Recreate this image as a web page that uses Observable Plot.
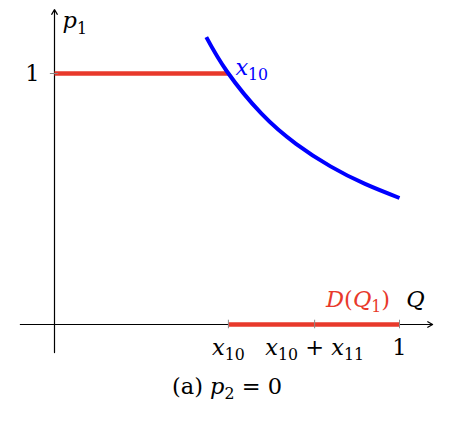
<!DOCTYPE html>
<html>
<head>
<meta charset="utf-8">
<script src="https://cdn.jsdelivr.net/npm/d3@7"></script>
<script src="https://cdn.jsdelivr.net/npm/@observablehq/plot@0.6"></script>
<style>
  html, body { margin: 0; padding: 0; background: #fff; }
  svg text, svg tspan { white-space: pre; }
</style>
</head>
<body>
<div id="chart"></div>
<script>
// Blue curve
const curveQ = [0.44, 0.5, 0.6, 0.7, 0.8, 0.9, 1.0];
const curveP = [1.145, 1.008, 0.84, 0.72, 0.63, 0.56, 0.504];
// Red segments
const upperRedQ = [0, 0.504];
const upperRedP = [1, 1];
const lowerRedQ = [0.504, 1];
const lowerRedP = [0, 0];
// Ticks and tick labels
const xTickValues = [0.504, 0.754, 1];
const xTickLabels = ["*x*_{10}", "*x*_{10} + *x*_{11}", "1"];
const yTickValues = [1];
const yTickLabels = ["1"];
// Axis extents
const xAxisRange = [-0.099, 1.096];
const yAxisRange = [-0.112, 1.255];

const RED = "#e8392b";
const BLUE = "#0000ff";
const FONT = "DejaVu Serif";
const FS = 22.5;

const plot = Plot.plot({
  width: 472,
  height: 434,
  marginLeft: 54,
  marginRight: 73,
  marginTop: 73,
  marginBottom: 110,
  x: {domain: [0, 1], axis: null},
  y: {domain: [0, 1], axis: null},
  style: {fontFamily: FONT, background: "#fff", overflow: "visible"},
  marks: [
    // axes with arrows
    Plot.arrow([0], {x1: xAxisRange[0], x2: xAxisRange[1], y1: 0, y2: 0, stroke: "#000", strokeWidth: 1.2, headLength: 7}),
    Plot.arrow([0], {x1: 0, x2: 0, y1: yAxisRange[0], y2: yAxisRange[1], stroke: "#000", strokeWidth: 1.2, headLength: 7}),
    // red segments
    Plot.line(upperRedQ.map((q, i) => ({q, p: upperRedP[i]})), {x: "q", y: "p", stroke: RED, strokeWidth: 4.5, strokeLinecap: "butt"}),
    Plot.line(lowerRedQ.map((q, i) => ({q, p: lowerRedP[i]})), {x: "q", y: "p", stroke: RED, strokeWidth: 4.5, strokeLinecap: "butt"}),
    // small ticks
    Plot.ruleX(xTickValues, {x: d => d, y1: -0.017, y2: 0.017, stroke: "#888", strokeWidth: 1}),
    Plot.ruleY(yTickValues, {y: d => d, x1: -0.012, x2: 0.012, stroke: "#888", strokeWidth: 1}),
    // blue curve
    Plot.line(curveQ.map((q, i) => ({q, p: curveP[i]})), {x: "q", y: "p", stroke: BLUE, strokeWidth: 4, curve: "natural", strokeLinecap: "butt"}),
    // tick labels
    Plot.text(xTickLabels, {x: xTickValues, y: 0, text: d => d, dy: 23, fontSize: FS, fontFamily: FONT, fill: "#000"}),
    Plot.text(yTickLabels, {x: 0, y: yTickValues, text: d => d, dx: -15, textAnchor: "end", fontSize: FS, fontFamily: FONT, fill: "#000"}),
    // axis titles
    Plot.text(["*p*_1"], {x: 0, y: 1.21, text: d => d, dx: 8, textAnchor: "start", fontSize: FS, fontFamily: FONT, fill: "#000"}),
    Plot.text(["*Q*"], {x: 1.046, y: 0.10, text: d => d, fontSize: FS, fontFamily: FONT, fill: "#000"}),
    // annotations
    Plot.text(["*D*(*Q*_1)"], {x: 0.88, y: 0.10, text: d => d, fontSize: FS, fontFamily: FONT, fill: RED}),
    Plot.text(["*x*_{10}"], {x: 0.504, y: 1, text: d => d, dx: 7, dy: -6, textAnchor: "start", fontSize: FS, fontFamily: FONT, fill: BLUE}),
    // caption
    Plot.text(["(a) *p*_2 = 0"], {frameAnchor: "bottom", text: d => d, dy: 69, fontSize: FS, fontFamily: FONT, fill: "#000"})
  ]
});

document.getElementById("chart").appendChild(plot);

// Convert mini-markup (*italic*, _sub, _{sub}) into tspans
function mathify(svg) {
  svg.querySelectorAll("text").forEach(t => {
    const s = t.textContent;
    if (!/[*_]/.test(s)) return;
    const fs = parseFloat(getComputedStyle(t).fontSize) || FS;
    t.textContent = "";
    const re = /\*([^*]+)\*|_\{([^}]*)\}|_(.)|([^*_]+)/g;
    const shift = 0.25 * fs;
    let m, shifted = false;
    while ((m = re.exec(s))) {
      const ts = document.createElementNS("http://www.w3.org/2000/svg", "tspan");
      if (m[2] !== undefined || m[3] !== undefined) {
        ts.textContent = m[2] !== undefined ? m[2] : m[3];
        ts.setAttribute("font-size", 0.7 * fs);
        if (!shifted) { ts.setAttribute("dy", shift); shifted = true; }
      } else {
        ts.textContent = m[1] !== undefined ? m[1] : m[4];
        if (m[1] !== undefined) ts.setAttribute("font-style", "italic");
        if (shifted) { ts.setAttribute("dy", -shift); shifted = false; }
      }
      t.appendChild(ts);
    }
  });
}
mathify(plot);
</script>
</body>
</html>
